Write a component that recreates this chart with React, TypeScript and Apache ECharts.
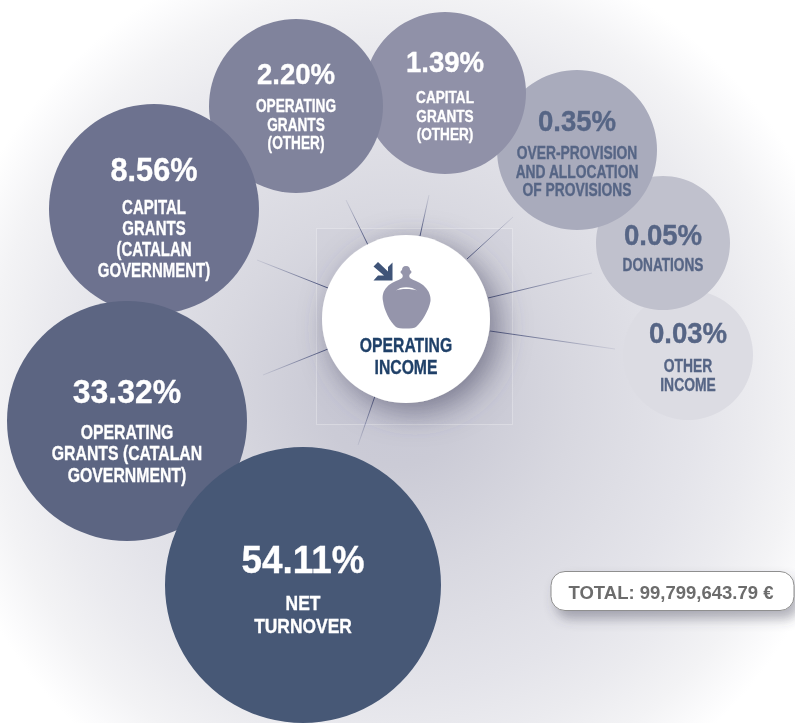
import React, { useEffect, useRef } from "react";
import * as echarts from "echarts";

const WIDTH = 795;
const HEIGHT = 723;

// Content
const percentages = ["0.03%", "0.05%", "0.35%", "1.39%", "2.20%", "8.56%", "33.32%", "54.11%"];
const shares = [0.03, 0.05, 0.35, 1.39, 2.2, 8.56, 33.32, 54.11];
const names = [
  ["OTHER", "INCOME"],
  ["DONATIONS"],
  ["OVER-PROVISION", "AND ALLOCATION", "OF PROVISIONS"],
  ["CAPITAL", "GRANTS", "(OTHER)"],
  ["OPERATING", "GRANTS", "(OTHER)"],
  ["CAPITAL", "GRANTS", "(CATALAN", "GOVERNMENT)"],
  ["OPERATING", "GRANTS (CATALAN", "GOVERNMENT)"],
  ["NET", "TURNOVER"],
];
const centerTitle = ["OPERATING", "INCOME"];
const totalText = "TOTAL: 99,799,643.79 €";

// Layout
const bubbleX = [688, 663, 577, 445, 296, 154, 127, 303];
const bubbleY = [355, 243, 150, 93, 106, 209, 421, 585];
const bubbleR = [65, 67, 80, 81, 87, 105, 120, 138];
const bubbleColor = ["#dcdce3", "#c0c1cd", "#a9abbc", "#9091a8", "#80839c", "#6d728f", "#5c6582", "#475876"];
const textColor = ["#566585", "#566585", "#566585", "#fff", "#fff", "#fff", "#fff", "#fff"];
const pctCenterY = [333, 235, 121, 62, 74, 170, 391, 560];
const firstNameY = [365, 265, 153, 97, 106, 207, 432, 603];
const pctSize = [30, 30, 30, 30, 30, 33, 34, 39];
const pctScale = [0.92, 0.92, 0.92, 0.92, 0.92, 0.93, 0.94, 0.945];
const nameSize = [18.5, 17.5, 17.5, 17, 17.5, 20, 20, 21];
const nameScale = [0.75, 0.78, 0.79, 0.8, 0.78, 0.75, 0.79, 0.83];
const nameLine = [19, 19, 18.5, 18.5, 18.5, 21, 21.5, 23];
const spokes = [
  [368, 245, 346, 200],
  [420, 236, 429, 195],
  [467, 259, 513, 217],
  [488, 298, 592, 273],
  [490, 331, 615, 349],
  [328, 288, 257, 260],
  [328, 349, 263, 375],
  [375, 396, 358, 445],
];

const FONT = '"Liberation Sans",Arial,sans-serif';

const JUG =
  "M406 266 C403 266 402 268 402 270 C400 271 400 273 402 274 C403 275 403 277 402 278 C398 281 391 282 387 287 C383 291 382 296 383 301 C384 310 390 322 396 327 C399 329 413 329 416 327 C422 322 429 310 430.5 301 C431 296 429 291 425 287 C421 282 414 281 410 278 C409 277 409 275 410 274 C412 273 412 271 410 270 C410 268 409 266 406 266 Z";
const GLINT = "M396 290.5 C400 286 412 286 417 290.5 C412 288.5 400 288.5 396 290.5 Z";
echarts.graphic.registerShape("jug", echarts.graphic.extendPath(JUG, {}));
echarts.graphic.registerShape("glint", echarts.graphic.extendPath(GLINT, {}));

function textLine(text: string, x: number, y: number, size: number, scale: number, fill: string) {
  return {
    type: "text",
    x,
    y,
    scaleX: scale,
    style: {
      text,
      fontFamily: FONT,
      fontWeight: "bold",
      fontSize: size,
      fill,
      stroke: fill,
      lineWidth: 0.35,
      align: "center",
      verticalAlign: "middle",
    },
  };
}

export default function App() {
  const ref = useRef<HTMLDivElement>(null);
  useEffect(() => {
    const chart = echarts.init(ref.current!, undefined, { renderer: "svg" });
    chart.setOption({
      animation: false,
      grid: { left: 0, right: 0, top: 0, bottom: 0 },
      xAxis: { type: "value", min: 0, max: WIDTH, show: false },
      yAxis: { type: "value", min: 0, max: HEIGHT, inverse: true, show: false },
      graphic: [
        {
          type: "rect",
          z: -10,
          silent: true,
          shape: { x: 0, y: 0, width: WIDTH, height: HEIGHT },
          style: {
            fill: new echarts.graphic.RadialGradient(
              395,
              392,
              462,
              [
                { offset: 0, color: "#c8c8d5" },
                { offset: 0.16, color: "#cbcbd6" },
                { offset: 0.39, color: "#d8d8e0" },
                { offset: 0.65, color: "#e4e4ea" },
                { offset: 0.77, color: "#ebebef" },
                { offset: 0.88, color: "#f3f3f5" },
                { offset: 0.96, color: "#fbfbfc" },
                { offset: 1, color: "#ffffff" },
              ],
              true
            ),
          },
        },
        {
          type: "rect",
          z: -5,
          silent: true,
          shape: { x: 316.5, y: 228.5, width: 196, height: 196 },
          style: { fill: "rgba(190,190,206,0.2)", stroke: "rgba(255,255,255,0.28)", lineWidth: 1 },
        },
        { type: "jug", z: 100, silent: true, style: { fill: "#9595ab" } },
        { type: "glint", z: 101, silent: true, style: { fill: "#ffffff" } },
        {
          type: "polygon",
          z: 100,
          silent: true,
          shape: {
            points: [
              [392.5, 262.5],
              [392.5, 280.5],
              [373.5, 280.5],
              [378, 275.5],
              [384, 275.5],
              [373.5, 266.5],
              [378, 262],
              [388, 271.5],
              [388, 267],
            ],
          },
          style: { fill: "#3f5478" },
        },
        {
          type: "rect",
          z: 50,
          silent: true,
          shape: { x: 551, y: 571.5, width: 243, height: 39, r: 14 },
          style: {
            fill: "#ffffff",
            stroke: "#8f8f8f",
            lineWidth: 1,
            shadowBlur: 12,
            shadowOffsetX: 5,
            shadowOffsetY: 8,
            shadowColor: "rgba(70,70,90,0.4)",
          },
        },
        {
          type: "text",
          z: 51,
          silent: true,
          x: 671,
          y: 592,
          style: {
            text: totalText,
            fontFamily: FONT,
            fontWeight: "bold",
            fontSize: 18.5,
            fill: "#6c6c6c",
            align: "center",
            verticalAlign: "middle",
          },
        },
      ],
      series: [
        {
          type: "custom",
          coordinateSystem: "cartesian2d",
          z: 1,
          silent: true,
          data: spokes,
          renderItem: (_: unknown, api: any) => {
            const a = api.coord([api.value(0), api.value(1)]);
            const b = api.coord([api.value(2), api.value(3)]);
            return {
              type: "line",
              shape: { x1: a[0], y1: a[1], x2: b[0], y2: b[1] },
              style: {
                lineWidth: 1,
                fill: "none",
                stroke: new echarts.graphic.LinearGradient(
                  a[0],
                  a[1],
                  b[0],
                  b[1],
                  [
                    { offset: 0, color: "#464f78" },
                    { offset: 1, color: "rgba(110,115,150,0.15)" },
                  ],
                  true
                ),
              },
            };
          },
        },
        {
          type: "scatter",
          z: 2,
          silent: true,
          symbol: "circle",
          data: shares.map((share, i) => ({
            name: names[i].join(" "),
            value: [bubbleX[i], bubbleY[i], share],
            symbolSize: bubbleR[i] * 2,
            itemStyle: { color: bubbleColor[i], opacity: 1 },
            z2: i,
          })),
        },
        {
          type: "scatter",
          z: 3,
          silent: true,
          symbol: "circle",
          data: [
            {
              name: centerTitle.join(" "),
              value: [406, 319],
              symbolSize: 168,
              itemStyle: {
                color: "#ffffff",
                opacity: 1,
                shadowBlur: 30,
                shadowOffsetX: 9,
                shadowOffsetY: 9,
                shadowColor: "rgba(70,70,100,0.6)",
              },
            },
          ],
        },
        {
          type: "custom",
          coordinateSystem: "cartesian2d",
          z: 4,
          silent: true,
          data: shares.map((share, i) => [bubbleX[i], share, i]),
          renderItem: (_: unknown, api: any) => {
            const i = api.value(2);
            const cx = api.coord([api.value(0), 0])[0];
            const children = [
              textLine(percentages[i], cx, api.coord([0, pctCenterY[i]])[1], pctSize[i], pctScale[i], textColor[i]),
              ...names[i].map((line, k) =>
                textLine(line, cx, api.coord([0, firstNameY[i] + k * nameLine[i]])[1], nameSize[i], nameScale[i], textColor[i])
              ),
            ];
            return { type: "group", children };
          },
        },
        {
          type: "custom",
          coordinateSystem: "cartesian2d",
          z: 5,
          silent: true,
          data: [[406, 345, 0], [406, 367, 1]],
          renderItem: (_: unknown, api: any) => {
            const p = api.coord([api.value(0), api.value(1)]);
            return textLine(centerTitle[api.value(2)], p[0], p[1], 21, 0.75, "#1f4068");
          },
        },
      ],
    });
    return () => chart.dispose();
  }, []);
  return <div ref={ref} style={{ position: "fixed", left: 0, top: 0, width: WIDTH, height: HEIGHT }} />;
}
